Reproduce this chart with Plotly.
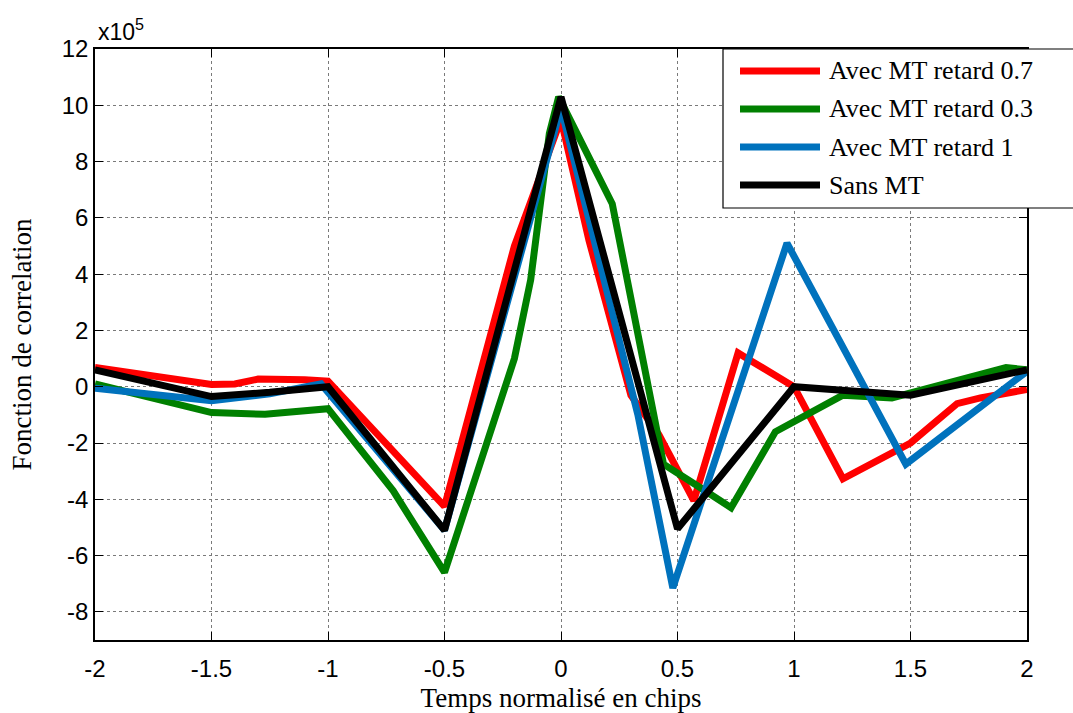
import plotly.graph_objects as go

# Correlation curves (values in units of 1e5) versus normalised chip delay
x_red = [-2, -1.5, -1.4, -1.3, -1.1, -1.0, -0.5, -0.2, 0.0, 0.12, 0.3, 0.42, 0.57, 0.76, 0.82, 1.0, 1.21, 1.5, 1.7, 1.8, 2.0]
y_red = [0.68, 0.08, 0.1, 0.27, 0.25, 0.2, -4.25, 5.0, 9.5, 5.2, -0.3, -1.7, -4.05, 1.2, 0.9, 0.0, -3.27, -2.0, -0.6, -0.4, -0.1]

x_green = [-2, -1.5, -1.27, -1.06, -1.0, -0.72, -0.5, -0.2, -0.13, -0.05, -0.01, 0.22, 0.44, 0.6, 0.73, 0.92, 1.21, 1.42, 1.91, 2.0]
y_green = [0.1, -0.92, -0.98, -0.8, -0.78, -3.7, -6.6, 1.0, 3.8, 9.0, 10.3, 6.5, -2.75, -3.6, -4.3, -1.6, -0.3, -0.4, 0.68, 0.6]

x_blue = [-2, -1.5, -1.25, -1.03, -0.5, 0.0, 0.33, 0.48, 0.97, 1.48, 2.0]
y_blue = [-0.05, -0.5, -0.25, 0.1, -5.1, 9.9, -1.0, -7.15, 5.1, -2.75, 0.55]

x_black = [-2, -1.5, -1.25, -1.05, -1.0, -0.5, 0.0, 0.5, 1.0, 1.25, 1.5, 2.0]
y_black = [0.6, -0.35, -0.2, -0.03, 0.0, -5.1, 10.3, -5.05, 0.0, -0.15, -0.3, 0.6]

series_names = ["Avec MT retard 0.7", "Avec MT retard 0.3", "Avec MT retard 1", "Sans MT"]
series_colors = ["#FF0000", "#008000", "#0072BD", "#000000"]
series_x = [x_red, x_green, x_blue, x_black]
series_y = [y_red, y_green, y_blue, y_black]

x_ticks = [-2, -1.5, -1, -0.5, 0, 0.5, 1, 1.5, 2]
x_ticklabels = ["-2", "-1.5", "-1", "-0.5", "0", "0.5", "1", "1.5", "2"]
y_ticks = [-8, -6, -4, -2, 0, 2, 4, 6, 8, 10, 12]
y_ticklabels = ["-8", "-6", "-4", "-2", "0", "2", "4", "6", "8", "10", "12"]

SANS = "Liberation Sans, Arial, sans-serif"
SERIF = "Liberation Serif, Times New Roman, serif"

fig = go.Figure()
for xs, ys, name, col in zip(series_x, series_y, series_names, series_colors):
    fig.add_trace(go.Scatter(
        x=xs, y=ys, name=name, mode="lines",
        line=dict(color=col, width=7, shape="linear"),
        showlegend=False,
    ))

axis_common = dict(
    showgrid=True, gridcolor="#7a7a7a", griddash="dot", gridwidth=1,
    zeroline=False, showline=True, linecolor="black", linewidth=1.5,
    mirror="ticks", ticks="inside", ticklen=8, tickcolor="black",
    tickfont=dict(family=SANS, size=24, color="black"),
    automargin=False,
)

fig.update_xaxes(
    range=[-2, 2], tickvals=x_ticks, ticktext=x_ticklabels,
    ticklabelstandoff=6,
    title=dict(text="Temps normalisé en chips",
               font=dict(family=SERIF, size=27, color="black"), standoff=10),
    **axis_common,
)
fig.update_yaxes(
    range=[-9, 12], tickvals=y_ticks, ticktext=y_ticklabels,
    title=dict(text="Fonction de correlation",
               font=dict(family=SERIF, size=27, color="black"), standoff=22),
    **axis_common,
)

# Legend box drawn as shapes + text, partly outside the axes on the right
plot_l, plot_r, plot_t, plot_b = 95, 1027, 49, 640
def px_x(p):
    return (p - plot_l) / (plot_r - plot_l)
def px_y(p):
    return (plot_b - p) / (plot_b - plot_t)

shapes = [dict(type="rect", xref="paper", yref="paper",
               x0=px_x(723), x1=px_x(1080), y0=px_y(208), y1=px_y(49),
               fillcolor="white", line=dict(color="black", width=1.2),
               layer="above")]
annotations = []
row_y = [71, 109, 147, 185]
for name, col, ry in zip(series_names, series_colors, row_y):
    shapes.append(dict(type="line", xref="paper", yref="paper",
                       x0=px_x(740), x1=px_x(820), y0=px_y(ry), y1=px_y(ry),
                       line=dict(color=col, width=7), layer="above"))
    annotations.append(dict(text=name, xref="paper", yref="paper",
                            x=px_x(827), y=px_y(ry), xanchor="left", yanchor="middle",
                            showarrow=False,
                            font=dict(family=SERIF, size=26, color="black")))

# Axis multiplier
annotations.append(dict(text="x10<sup>5</sup>", xref="paper", yref="paper",
                        x=px_x(96), y=px_y(30), xanchor="left", yanchor="middle",
                        showarrow=False,
                        font=dict(family=SANS, size=23, color="black")))

fig.update_layout(
    width=1073, height=713,
    margin=dict(l=plot_l, r=1073 - plot_r, t=plot_t, b=713 - plot_b),
    paper_bgcolor="white", plot_bgcolor="white",
    shapes=shapes, annotations=annotations,
    showlegend=False,
)

fig.write_html("out.html")
